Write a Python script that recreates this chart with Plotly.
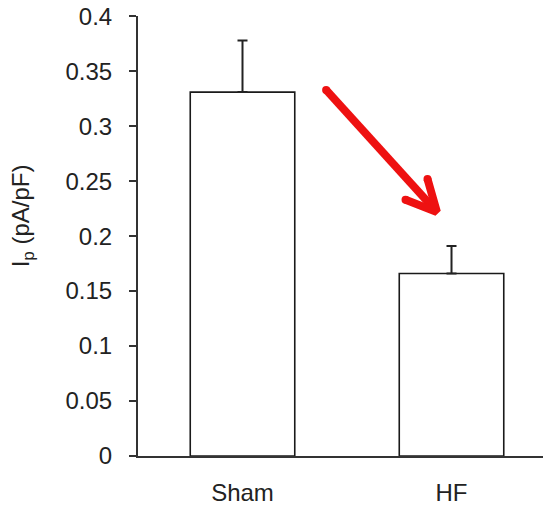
import plotly.graph_objects as go

categories = ["Sham", "HF"]
means = [0.331, 0.166]
errors = [0.047, 0.025]
y_ticks = [0, 0.05, 0.1, 0.15, 0.2, 0.25, 0.3, 0.35, 0.4]
y_tick_labels = ["0", "0.05", "0.1", "0.15", "0.2", "0.25", "0.3", "0.35", "0.4"]

# arrow (data coordinates): tail, tip, and the two head arms
arrow_x = [0.40, 0.93]
arrow_y = [0.333, 0.222]
head_x = [0.885, 0.93, 0.78]
head_y = [0.252, 0.222, 0.233]

FONT = "Liberation Sans, Arial, sans-serif"
positions = list(range(len(categories)))

fig = go.Figure()
fig.add_trace(go.Bar(
    x=positions, y=means, width=0.5,
    marker=dict(color="white", line=dict(color="#1a1a1a", width=1.6)),
    error_y=dict(type="data", array=errors, symmetric=False, arrayminus=[0, 0],
                 color="#222222", thickness=2, width=5),
    showlegend=False,
))

# red arrow
fig.add_trace(go.Scatter(
    x=arrow_x + [None] + head_x, y=arrow_y + [None] + head_y,
    mode="lines", line=dict(color="#ee1111", width=8),
    showlegend=False, hoverinfo="skip",
))
fig.add_trace(go.Scatter(
    x=[arrow_x[0], head_x[0], head_x[2]], y=[arrow_y[0], head_y[0], head_y[2]],
    mode="markers", marker=dict(color="#ee1111", size=8, line=dict(width=0)),
    showlegend=False, hoverinfo="skip",
))

fig.update_layout(
    width=543, height=500,
    margin=dict(l=130, r=0, t=8, b=52),
    paper_bgcolor="white", plot_bgcolor="white",
    font=dict(family=FONT, size=24, color="#222222"),
    xaxis=dict(
        range=[-0.5, 1.476], tickvals=positions, ticktext=categories,
        showline=True, linecolor="#333333", linewidth=2,
        showgrid=False, zeroline=False, ticks="",
        tickfont=dict(size=24), ticklabelstandoff=14,
        automargin=False, fixedrange=True,
    ),
    yaxis=dict(
        range=[0, 0.4002], tickvals=y_ticks, ticktext=y_tick_labels,
        showline=True, linecolor="#333333", linewidth=2,
        ticks="outside", ticklen=7, tickwidth=2, tickcolor="#333333",
        showgrid=False, zeroline=False,
        tickfont=dict(size=24), ticklabelstandoff=12,
        ticklabeloverflow="allow",
        automargin=False, fixedrange=True,
    ),
    annotations=[dict(
        text="I<sub>p</sub> (pA/pF)", textangle=-90,
        xref="paper", yref="paper", x=-0.281, y=0.547,
        xanchor="center", yanchor="middle", showarrow=False,
        font=dict(family=FONT, size=24, color="#222222"),
    )],
)

fig.write_html("out.html")
